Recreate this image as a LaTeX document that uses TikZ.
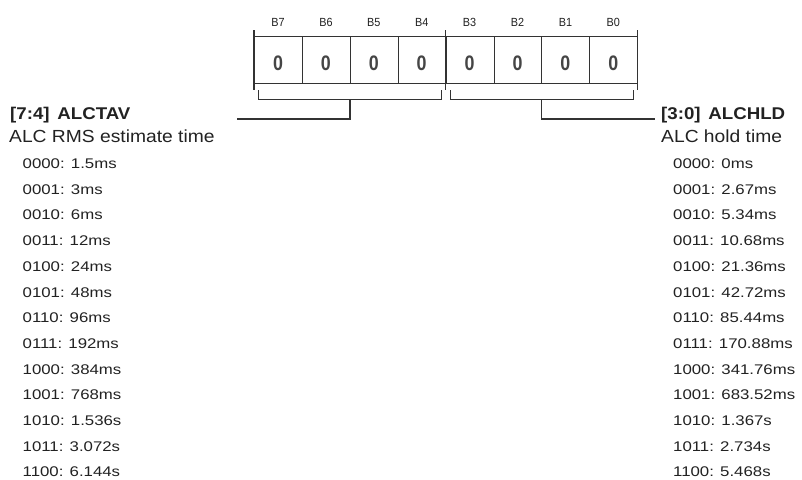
\documentclass[tikz,border=0pt]{standalone}
\usepackage{fontspec}
\setmainfont{Liberation Sans}
\newfontfamily\itemfont{Liberation Sans}[FakeStretch=1.2]
\newfontfamily\headfont{Liberation Sans}[FakeStretch=1.1]
\newfontfamily\bitfont{Liberation Sans}[FakeStretch=0.92]
\newfontfamily\zerofont{Liberation Sans}[FakeStretch=0.85]
\definecolor{linec}{HTML}{333333}
\definecolor{textc}{HTML}{222222}
\definecolor{zeroc}{HTML}{454545}
\tikzset{
  cellbox/.style={draw=linec, line width=1pt, minimum width=47.9pt, minimum height=47pt, inner sep=0pt, anchor=north west},
  zerolbl/.style={anchor=base, inner sep=0pt, text=zeroc, font=\zerofont\bfseries\fontsize{21}{21}\selectfont},
  bitlbl/.style={anchor=base, inner sep=0pt, text=textc, font=\bitfont\fontsize{11.8}{11.8}\selectfont},
  wire/.style={draw=linec, line width=1.4pt},
  headtxt/.style={anchor=base west, inner sep=0pt, text=textc, font=\headfont\bfseries\fontsize{17}{17}\selectfont},
  subtxt/.style={anchor=base west, inner sep=0pt, text=textc, font=\headfont\fontsize{17.5}{17.5}\selectfont},
  itemtxt/.style={anchor=base west, inner sep=0pt, text=textc, font=\itemfont\fontsize{14}{14}\selectfont}
}
\begin{document}
\begin{tikzpicture}[x=1pt,y=-1pt]
\useasboundingbox[fill=white] (0,0) rectangle (802,479);
% register cells
\foreach \b [count=\i from 0] in {7,6,5,4,3,2,1,0} {
  \node[cellbox] (c\b) at ({254+\i*47.9},36) {};
  \node[zerolbl] (z\b) at ({278+\i*47.9},70.5) {0};
  \node[bitlbl] (b\b) at ({278+\i*47.9},27) {B\b};
}
% outer ticks
\coordinate (t1a) at (254,30); \coordinate (t1b) at (254,90);
\coordinate (t2a) at (445.7,30); \coordinate (t2b) at (445.7,90);
\coordinate (t3a) at (637.3,30); \coordinate (t3b) at (637.3,90);
\draw[wire] (t1a) -- (t1b);
\draw[wire] (t2a) -- (t2b);
\draw[wire] (t3a) -- (t3b);
% brackets
\coordinate (lb1) at (258.3,90); \coordinate (lb2) at (258.3,99.5);
\coordinate (lb3) at (441.7,99.5); \coordinate (lb4) at (441.7,90);
\coordinate (rb1) at (450.7,90); \coordinate (rb2) at (450.7,99.5);
\coordinate (rb3) at (633.3,99.5); \coordinate (rb4) at (633.3,90);
\draw[wire] (lb1) -- (lb2) -- (lb3) -- (lb4);
\draw[wire] (rb1) -- (rb2) -- (rb3) -- (rb4);
% headers
\node[headtxt] (lhead) at (10,119) {[7:4]\hspace{0.45em}ALCTAV};
\node[subtxt] (lsub) at (9,142) {ALC RMS estimate time};
\node[headtxt] (rhead) at (661,119) {[3:0]\hspace{0.45em}ALCHLD};
\node[subtxt] (rsub) at (661,142) {ALC hold time};
% connectors
\coordinate (lc1) at (350,99.5); \coordinate (lc2) at (350,119); \coordinate (lc3) at (237,119);
\coordinate (rc1) at (541.7,99.5); \coordinate (rc2) at (541.7,119); \coordinate (rc3) at (655,119);
\draw[wire] (lc1) -- (lc2) -- (lc3);
\draw[wire] (rc1) -- (rc2) -- (rc3);
% lists
\foreach \t [count=\i from 0] in {0000: 1.5ms, 0001: 3ms, 0010: 6ms, 0011: 12ms, 0100: 24ms, 0101: 48ms, 0110: 96ms, 0111: 192ms, 1000: 384ms, 1001: 768ms, 1010: 1.536s, 1011: 3.072s, 1100: 6.144s}
  \node[itemtxt] (l\i) at (22.5,{168.5+\i*25.7}) {\t};
\foreach \t [count=\i from 0] in {0000: 0ms, 0001: 2.67ms, 0010: 5.34ms, 0011: 10.68ms, 0100: 21.36ms, 0101: 42.72ms, 0110: 85.44ms, 0111: 170.88ms, 1000: 341.76ms, 1001: 683.52ms, 1010: 1.367s, 1011: 2.734s, 1100: 5.468s}
  \node[itemtxt] (r\i) at (673,{168.5+\i*25.7}) {\t};
\end{tikzpicture}
\end{document}
